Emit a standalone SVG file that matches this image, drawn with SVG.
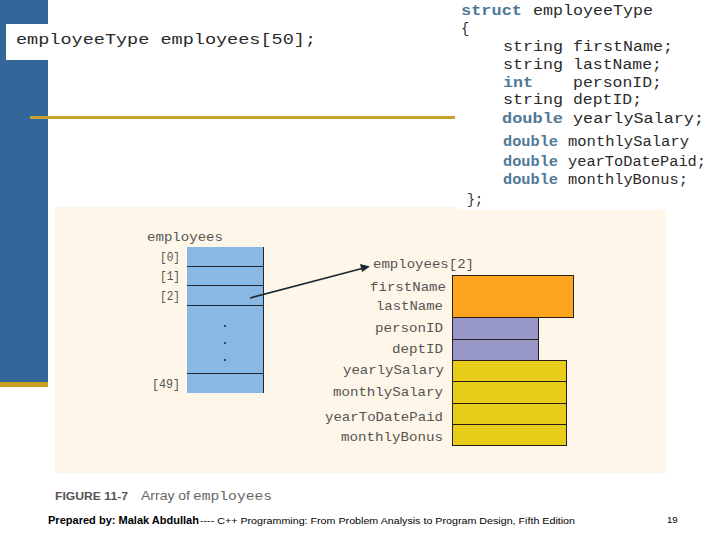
<svg xmlns="http://www.w3.org/2000/svg" width="720" height="540" viewBox="0 0 720 540">
<style>
text{white-space:pre}
.c{font-family:"Liberation Mono","DejaVu Sans Mono",monospace;fill:#2a2a2a;font-size:14px}
.k{font-family:"Liberation Mono","DejaVu Sans Mono",monospace;fill:#4f7896;font-size:14px;font-weight:bold}
.l{font-family:"Liberation Mono",monospace;font-size:13.5px;fill:#555}
.b{stroke:#2a2018;stroke-width:1}
.r{stroke:#1d2730;stroke-width:1;fill:none}
.f{font-family:"Liberation Sans",Arial,sans-serif;fill:#000}
</style>
<rect width="720" height="540" fill="#fff"/>
<g id="background">
<rect x="0" y="0" width="48" height="382" fill="#336699"/>
<rect x="0" y="382" width="48" height="5" fill="#c89f22"/>
<rect x="30" y="116" width="425" height="3" fill="#c8a230"/>
<rect x="6" y="24" width="42" height="36" fill="#fff"/>
</g>
<g id="declaration"><text class="c" x="16" y="44" font-size="15" style="font-size:15px" textLength="300" lengthAdjust="spacingAndGlyphs">employeeType employees[50];</text></g>
<g id="figure-panel"><rect x="55" y="207" width="611" height="266" fill="#fef6e8"/></g>
<g id="struct">
<rect x="456" y="0" width="264" height="210" fill="#fff"/>
<text class="k" x="461" y="15" textLength="61" lengthAdjust="spacingAndGlyphs">struct</text>
<text class="c" x="533" y="15" textLength="120" lengthAdjust="spacingAndGlyphs">employeeType</text>
<text class="c" x="461" y="33">{</text>
<text class="c" x="503" y="51" textLength="60" lengthAdjust="spacingAndGlyphs">string</text>
<text class="c" x="573" y="51" textLength="100" lengthAdjust="spacingAndGlyphs">firstName;</text>
<text class="c" x="503" y="69" textLength="60" lengthAdjust="spacingAndGlyphs">string</text>
<text class="c" x="573" y="69" textLength="89" lengthAdjust="spacingAndGlyphs">lastName;</text>
<text class="k" x="503" y="87" textLength="30" lengthAdjust="spacingAndGlyphs">int</text>
<text class="c" x="573" y="87" textLength="89" lengthAdjust="spacingAndGlyphs">personID;</text>
<text class="c" x="503" y="104" textLength="60" lengthAdjust="spacingAndGlyphs">string</text>
<text class="c" x="573" y="104" textLength="69" lengthAdjust="spacingAndGlyphs">deptID;</text>
<text class="k" x="502" y="123" textLength="61" lengthAdjust="spacingAndGlyphs">double</text>
<text class="c" x="573" y="123" textLength="131" lengthAdjust="spacingAndGlyphs">yearlySalary;</text>
<text class="k" x="503" y="146" textLength="55" lengthAdjust="spacingAndGlyphs">double</text>
<text class="c" x="568" y="146" textLength="121" lengthAdjust="spacingAndGlyphs">monthlySalary</text>
<text class="k" x="503" y="166" textLength="55" lengthAdjust="spacingAndGlyphs">double</text>
<text class="c" x="568" y="166" textLength="138" lengthAdjust="spacingAndGlyphs">yearToDatePaid;</text>
<text class="k" x="503" y="184" textLength="55" lengthAdjust="spacingAndGlyphs">double</text>
<text class="c" x="568" y="184" textLength="120" lengthAdjust="spacingAndGlyphs">monthlyBonus;</text>
<text class="c" x="467" y="204" textLength="16" lengthAdjust="spacingAndGlyphs">};</text>
</g>
<g id="array">
<rect x="187" y="247" width="76" height="146" fill="#8ab8e4"/>
<path class="r" d="M263.500 247V393M187 266.500H263M187 285.500H263M187 305.500H263M187 373.500H263"/>
<text class="l" x="147" y="241" textLength="76" lengthAdjust="spacingAndGlyphs">employees</text>
<text class="l" x="160" y="261" textLength="20" lengthAdjust="spacingAndGlyphs">[0]</text>
<text class="l" x="160" y="280" textLength="20" lengthAdjust="spacingAndGlyphs">[1]</text>
<text class="l" x="160" y="300" textLength="20" lengthAdjust="spacingAndGlyphs">[2]</text>
<text class="l" x="152" y="388" textLength="28" lengthAdjust="spacingAndGlyphs">[49]</text>
<circle cx="225" cy="326" r="1" fill="#1d2730"/><circle cx="225" cy="343" r="1" fill="#1d2730"/><circle cx="225" cy="360" r="1" fill="#1d2730"/>
</g>
<g id="connectors">
<path d="M250 298L362 268.500" stroke="#1d2730" stroke-width="1.700" fill="none"/>
<path d="M370 266.500L360 264L362 272Z" fill="#1d2730"/>
</g>
<g id="record">
<text class="l" x="373" y="268" textLength="101" lengthAdjust="spacingAndGlyphs">employees[2]</text>
<text class="l" x="370" y="291" textLength="76" lengthAdjust="spacingAndGlyphs">firstName</text>
<text class="l" x="376" y="310" textLength="67" lengthAdjust="spacingAndGlyphs">lastName</text>
<text class="l" x="375" y="332" textLength="68" lengthAdjust="spacingAndGlyphs">personID</text>
<text class="l" x="392" y="353" textLength="51" lengthAdjust="spacingAndGlyphs">deptID</text>
<text class="l" x="343" y="374" textLength="101" lengthAdjust="spacingAndGlyphs">yearlySalary</text>
<text class="l" x="333" y="396" textLength="110" lengthAdjust="spacingAndGlyphs">monthlySalary</text>
<text class="l" x="325" y="421" textLength="118" lengthAdjust="spacingAndGlyphs">yearToDatePaid</text>
<text class="l" x="341" y="441" textLength="102" lengthAdjust="spacingAndGlyphs">monthlyBonus</text>
<rect class="b" x="452.500" y="275.500" width="121" height="42" fill="#fca41d"/>
<rect class="b" x="452.500" y="317.500" width="86" height="22" fill="#9898c8"/>
<rect class="b" x="452.500" y="339.500" width="86" height="21" fill="#9898c8"/>
<rect class="b" x="452.500" y="360.500" width="114" height="21" fill="#e8cc1a"/>
<rect class="b" x="452.500" y="381.500" width="114" height="22" fill="#e8cc1a"/>
<rect class="b" x="452.500" y="403.500" width="114" height="21" fill="#e8cc1a"/>
<rect class="b" x="452.500" y="424.500" width="114" height="21" fill="#e8cc1a"/>
</g>
<g id="caption">
<text x="55" y="500" font-family="Liberation Sans,sans-serif" font-size="11.500" font-weight="bold" fill="#555" textLength="73" lengthAdjust="spacingAndGlyphs">FIGURE 11-7</text>
<text x="141" y="500" font-family="Liberation Sans,sans-serif" font-size="12" fill="#666" textLength="49" lengthAdjust="spacingAndGlyphs">Array of</text>
<text x="193" y="500" font-family="Liberation Mono,monospace" font-size="12.500" fill="#666" textLength="79" lengthAdjust="spacingAndGlyphs">employees</text>
</g>
<g id="footer">
<text class="f" x="48" y="524" font-size="10.500" font-weight="bold" textLength="151" lengthAdjust="spacingAndGlyphs">Prepared by: Malak Abdullah</text>
<text class="f" x="200" y="524" font-size="9.500" textLength="375" lengthAdjust="spacingAndGlyphs">---- C++ Programming: From Problem Analysis to Program Design, Fifth Edition</text>
<text class="f" x="667" y="523" font-size="9.500">19</text>
</g>
</svg>
